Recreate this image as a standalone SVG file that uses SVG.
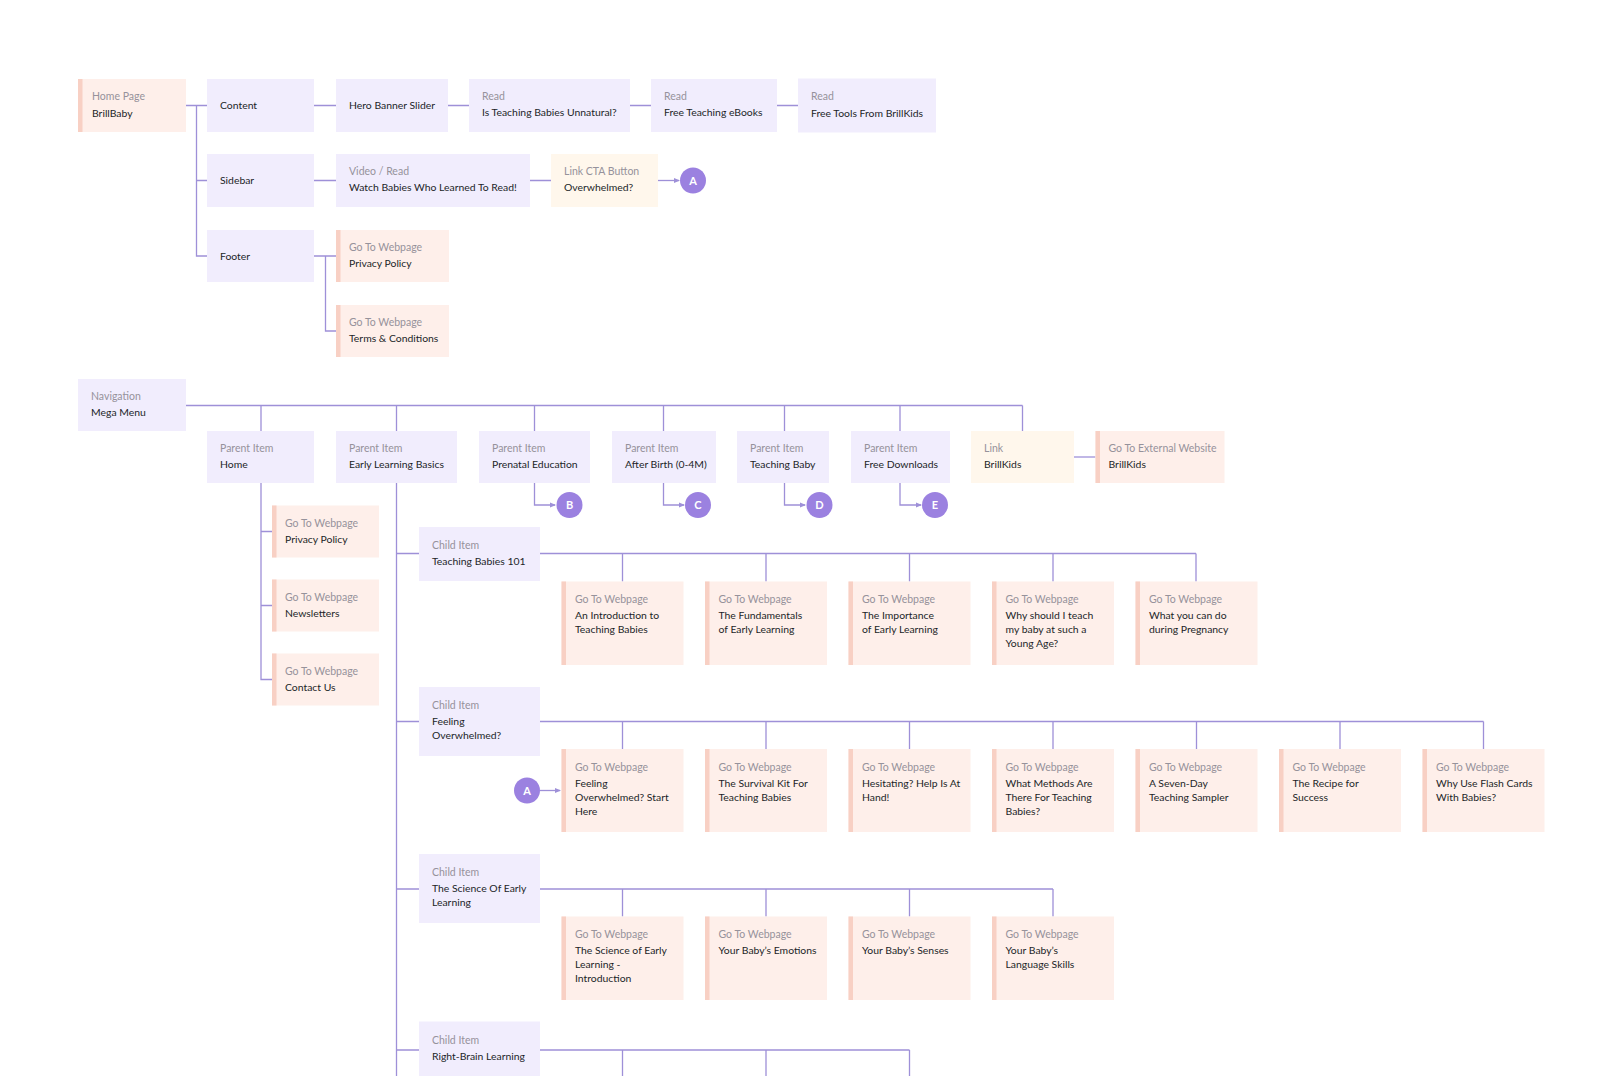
<svg xmlns="http://www.w3.org/2000/svg" width="1622" height="1076" viewBox="0 0 1622 1076">
<style>
.p{fill:#F1EDFD}
.k{fill:#FEEFEA}
.y{fill:#FFF7EC}
.ac{fill:#F8D0C4}
.lb{font-family:Lato,"Open Sans",sans-serif;font-size:10.5px;fill:#96929B}
.mt{font-family:Lato,"Open Sans",sans-serif;font-size:10.4px;fill:#221F28}
.ln{fill:none;stroke:#9E90D8;stroke-width:1.3}
.cc{fill:#9B81E0}
.ct{font-family:Lato,"Open Sans",sans-serif;font-size:11px;fill:#FFFFFF;font-weight:bold;text-anchor:middle}
</style>
<defs>
<marker id="ar" viewBox="0 0 6 6" refX="5" refY="3" markerWidth="6" markerHeight="6" markerUnits="userSpaceOnUse" orient="auto">
<path d="M0 0.5 L6 3 L0 5.5 Z" fill="#9E90D8"/>
</marker>
</defs>
<rect width="1622" height="1076" fill="#FFFFFF"/>

<g id="connectors">
<path class="ln" d="M186 105.5 H196.5 V256 H207 M196.5 105.5 H207 M196.5 180.5 H207"/>
<path class="ln" d="M314 105.5 H336 M448 105.5 H469 M630 105.5 H651 M777 105.5 H798"/>
<path class="ln" d="M314 180.5 H336 M530 180.5 H551"/>
<path class="ln" d="M658 180.5 H679" marker-end="url(#ar)"/>
<path class="ln" d="M314 256 H336 M325.5 256 V331 H336"/>
<path class="ln" d="M186 405.5 H1022.5 M261 405.5 V431 M396.5 405.5 V431 M534.5 405.5 V431 M663.5 405.5 V431 M784.5 405.5 V431 M900 405.5 V431 M1022.5 405.5 V431"/>
<path class="ln" d="M1074 457 H1095.5"/>
<path class="ln" d="M534.5 483 V505 H555" marker-end="url(#ar)"/>
<path class="ln" d="M663.5 483 V505 H684" marker-end="url(#ar)"/>
<path class="ln" d="M784.5 483 V505 H805" marker-end="url(#ar)"/>
<path class="ln" d="M900 483 V505 H921" marker-end="url(#ar)"/>
<path class="ln" d="M261 483 V679.5 H272 M261 531.5 H272 M261 605.5 H272"/>
<path class="ln" d="M396.5 483 V1076"/>
<path class="ln" d="M396.5 553.5 H1196 M622.5 553.5 V581.5 M766 553.5 V581.5 M909.5 553.5 V581.5 M1053 553.5 V581.5 M1196 553.5 V581.5"/>
<path class="ln" d="M396.5 721.5 H1483.5 M622.5 721.5 V749 M766 721.5 V749 M909.5 721.5 V749 M1053 721.5 V749 M1196.5 721.5 V749 M1340 721.5 V749 M1483.5 721.5 V749"/>
<path class="ln" d="M540 790.5 H560" marker-end="url(#ar)"/>
<path class="ln" d="M396.5 889 H1053 M622.5 889 V916.5 M766 889 V916.5 M909.5 889 V916.5 M1053 889 V916.5"/>
<path class="ln" d="M396.5 1050 H909.5 M622.5 1050 V1076 M766 1050 V1076 M909.5 1050 V1076"/>
</g>

<g id="home"><rect class="k" x="78" y="79" width="108" height="53"/><rect class="ac" x="78" y="79" width="4.5" height="53"/><text class="lb" x="92" y="100">Home Page</text><text class="mt" x="92" y="116.5">BrillBaby</text></g>
<g id="content"><rect class="p" x="207" y="79" width="107" height="53"/><text class="mt" x="220" y="109">Content</text></g>
<g id="hero"><rect class="p" x="336" y="79" width="112" height="53"/><text class="mt" x="349" y="109">Hero Banner Slider</text></g>
<g id="read1"><rect class="p" x="469" y="79" width="161" height="53"/><text class="lb" x="482" y="100">Read</text><text class="mt" x="482" y="116">Is Teaching Babies Unnatural?</text></g>
<g id="read2"><rect class="p" x="651" y="79" width="126" height="53"/><text class="lb" x="664" y="100">Read</text><text class="mt" x="664" y="116">Free Teaching eBooks</text></g>
<g id="read3"><rect class="p" x="798" y="78.5" width="138" height="54"/><text class="lb" x="811" y="100">Read</text><text class="mt" x="811" y="116.5">Free Tools From BrillKids</text></g>

<g id="sidebar"><rect class="p" x="207" y="154" width="107" height="53"/><text class="mt" x="220" y="184">Sidebar</text></g>
<g id="video"><rect class="p" x="336" y="154" width="194" height="53"/><text class="lb" x="349" y="175">Video / Read</text><text class="mt" x="349" y="191">Watch Babies Who Learned To Read!</text></g>
<g id="cta"><rect class="y" x="551" y="154" width="107" height="53"/><text class="lb" x="564" y="175">Link CTA Button</text><text class="mt" x="564" y="191">Overwhelmed?</text></g>
<g id="circleA1"><circle class="cc" cx="693" cy="180.5" r="13"/><text class="ct" x="693" y="184.5">A</text></g>

<g id="footer"><rect class="p" x="207" y="230" width="107" height="52"/><text class="mt" x="220" y="259.5">Footer</text></g>
<g id="privacy1"><rect class="k" x="336" y="230" width="113" height="52"/><rect class="ac" x="336" y="230" width="4.5" height="52"/><text class="lb" x="349" y="251">Go To Webpage</text><text class="mt" x="349" y="267">Privacy Policy</text></g>
<g id="terms"><rect class="k" x="336" y="305" width="113" height="52"/><rect class="ac" x="336" y="305" width="4.5" height="52"/><text class="lb" x="349" y="326">Go To Webpage</text><text class="mt" x="349" y="342">Terms &amp; Conditions</text></g>

<g id="nav"><rect class="p" x="78" y="379" width="108" height="52"/><text class="lb" x="91" y="400">Navigation</text><text class="mt" x="91" y="416">Mega Menu</text></g>
<g id="p-home"><rect class="p" x="207" y="431" width="107" height="52"/><text class="lb" x="220" y="452">Parent Item</text><text class="mt" x="220" y="468">Home</text></g>
<g id="p-elb"><rect class="p" x="336" y="431" width="121" height="52"/><text class="lb" x="349" y="452">Parent Item</text><text class="mt" x="349" y="468">Early Learning Basics</text></g>
<g id="p-prenatal"><rect class="p" x="479" y="431" width="111" height="52"/><text class="lb" x="492" y="452">Parent Item</text><text class="mt" x="492" y="468">Prenatal Education</text></g>
<g id="p-after"><rect class="p" x="612" y="431" width="104" height="52"/><text class="lb" x="625" y="452">Parent Item</text><text class="mt" x="625" y="468">After Birth (0-4M)</text></g>
<g id="p-teach"><rect class="p" x="737" y="431" width="92" height="52"/><text class="lb" x="750" y="452">Parent Item</text><text class="mt" x="750" y="468">Teaching Baby</text></g>
<g id="p-free"><rect class="p" x="851" y="431" width="99" height="52"/><text class="lb" x="864" y="452">Parent Item</text><text class="mt" x="864" y="468">Free Downloads</text></g>
<g id="p-link"><rect class="y" x="971" y="431" width="103" height="52"/><text class="lb" x="984" y="452">Link</text><text class="mt" x="984" y="468">BrillKids</text></g>
<g id="ext"><rect class="k" x="1095.5" y="431" width="129" height="52"/><rect class="ac" x="1095.5" y="431" width="4.5" height="52"/><text class="lb" x="1108.5" y="452">Go To External Website</text><text class="mt" x="1108.5" y="468">BrillKids</text></g>

<g id="circleB"><circle class="cc" cx="569.5" cy="505" r="13"/><text class="ct" x="569.5" y="509">B</text></g>
<g id="circleC"><circle class="cc" cx="698" cy="505" r="13"/><text class="ct" x="698" y="509">C</text></g>
<g id="circleD"><circle class="cc" cx="819.5" cy="505" r="13"/><text class="ct" x="819.5" y="509">D</text></g>
<g id="circleE"><circle class="cc" cx="935" cy="505" r="13"/><text class="ct" x="935" y="509">E</text></g>

<g id="h-privacy"><rect class="k" x="272" y="505.5" width="107" height="52"/><rect class="ac" x="272" y="505.5" width="4.5" height="52"/><text class="lb" x="285" y="526.5">Go To Webpage</text><text class="mt" x="285" y="542.5">Privacy Policy</text></g>
<g id="h-news"><rect class="k" x="272" y="579.5" width="107" height="52"/><rect class="ac" x="272" y="579.5" width="4.5" height="52"/><text class="lb" x="285" y="600.5">Go To Webpage</text><text class="mt" x="285" y="616.5">Newsletters</text></g>
<g id="h-contact"><rect class="k" x="272" y="653.5" width="107" height="52"/><rect class="ac" x="272" y="653.5" width="4.5" height="52"/><text class="lb" x="285" y="674.5">Go To Webpage</text><text class="mt" x="285" y="690.5">Contact Us</text></g>

<g id="c-tb101"><rect class="p" x="419" y="527" width="121" height="54"/><text class="lb" x="432" y="549">Child Item</text><text class="mt" x="432" y="565">Teaching Babies 101</text></g>
<g id="tb-1"><rect class="k" x="561.5" y="581.5" width="122" height="83.5"/><rect class="ac" x="561.5" y="581.5" width="4.5" height="83.5"/><text class="lb" x="575" y="603">Go To Webpage</text><text class="mt" x="575" y="619">An Introduction to</text><text class="mt" x="575" y="633">Teaching Babies</text></g>
<g id="tb-2"><rect class="k" x="705" y="581.5" width="122" height="83.5"/><rect class="ac" x="705" y="581.5" width="4.5" height="83.5"/><text class="lb" x="718.5" y="603">Go To Webpage</text><text class="mt" x="718.5" y="619">The Fundamentals</text><text class="mt" x="718.5" y="633">of Early Learning</text></g>
<g id="tb-3"><rect class="k" x="848.5" y="581.5" width="122" height="83.5"/><rect class="ac" x="848.5" y="581.5" width="4.5" height="83.5"/><text class="lb" x="862" y="603">Go To Webpage</text><text class="mt" x="862" y="619">The Importance</text><text class="mt" x="862" y="633">of Early Learning</text></g>
<g id="tb-4"><rect class="k" x="992" y="581.5" width="122" height="83.5"/><rect class="ac" x="992" y="581.5" width="4.5" height="83.5"/><text class="lb" x="1005.5" y="603">Go To Webpage</text><text class="mt" x="1005.5" y="619">Why should I teach</text><text class="mt" x="1005.5" y="633">my baby at such a</text><text class="mt" x="1005.5" y="647">Young Age?</text></g>
<g id="tb-5"><rect class="k" x="1135.5" y="581.5" width="122" height="83.5"/><rect class="ac" x="1135.5" y="581.5" width="4.5" height="83.5"/><text class="lb" x="1149" y="603">Go To Webpage</text><text class="mt" x="1149" y="619">What you can do</text><text class="mt" x="1149" y="633">during Pregnancy</text></g>

<g id="c-feel"><rect class="p" x="419" y="687" width="121" height="69"/><text class="lb" x="432" y="709">Child Item</text><text class="mt" x="432" y="725">Feeling</text><text class="mt" x="432" y="739">Overwhelmed?</text></g>
<g id="circleA2"><circle class="cc" cx="527" cy="790.5" r="13"/><text class="ct" x="527" y="794.5">A</text></g>
<g id="fo-1"><rect class="k" x="561.5" y="749" width="122" height="83"/><rect class="ac" x="561.5" y="749" width="4.5" height="83"/><text class="lb" x="575" y="770.5">Go To Webpage</text><text class="mt" x="575" y="786.5">Feeling</text><text class="mt" x="575" y="800.5">Overwhelmed? Start</text><text class="mt" x="575" y="814.5">Here</text></g>
<g id="fo-2"><rect class="k" x="705" y="749" width="122" height="83"/><rect class="ac" x="705" y="749" width="4.5" height="83"/><text class="lb" x="718.5" y="770.5">Go To Webpage</text><text class="mt" x="718.5" y="786.5">The Survival Kit For</text><text class="mt" x="718.5" y="800.5">Teaching Babies</text></g>
<g id="fo-3"><rect class="k" x="848.5" y="749" width="122" height="83"/><rect class="ac" x="848.5" y="749" width="4.5" height="83"/><text class="lb" x="862" y="770.5">Go To Webpage</text><text class="mt" x="862" y="786.5">Hesitating? Help Is At</text><text class="mt" x="862" y="800.5">Hand!</text></g>
<g id="fo-4"><rect class="k" x="992" y="749" width="122" height="83"/><rect class="ac" x="992" y="749" width="4.5" height="83"/><text class="lb" x="1005.5" y="770.5">Go To Webpage</text><text class="mt" x="1005.5" y="786.5">What Methods Are</text><text class="mt" x="1005.5" y="800.5">There For Teaching</text><text class="mt" x="1005.5" y="814.5">Babies?</text></g>
<g id="fo-5"><rect class="k" x="1135.5" y="749" width="122" height="83"/><rect class="ac" x="1135.5" y="749" width="4.5" height="83"/><text class="lb" x="1149" y="770.5">Go To Webpage</text><text class="mt" x="1149" y="786.5">A Seven-Day</text><text class="mt" x="1149" y="800.5">Teaching Sampler</text></g>
<g id="fo-6"><rect class="k" x="1279" y="749" width="122" height="83"/><rect class="ac" x="1279" y="749" width="4.5" height="83"/><text class="lb" x="1292.5" y="770.5">Go To Webpage</text><text class="mt" x="1292.5" y="786.5">The Recipe for</text><text class="mt" x="1292.5" y="800.5">Success</text></g>
<g id="fo-7"><rect class="k" x="1422.5" y="749" width="122" height="83"/><rect class="ac" x="1422.5" y="749" width="4.5" height="83"/><text class="lb" x="1436" y="770.5">Go To Webpage</text><text class="mt" x="1436" y="786.5">Why Use Flash Cards</text><text class="mt" x="1436" y="800.5">With Babies?</text></g>

<g id="c-science"><rect class="p" x="419" y="854" width="121" height="69"/><text class="lb" x="432" y="876">Child Item</text><text class="mt" x="432" y="892">The Science Of Early</text><text class="mt" x="432" y="906">Learning</text></g>
<g id="sc-1"><rect class="k" x="561.5" y="916.5" width="122" height="83.5"/><rect class="ac" x="561.5" y="916.5" width="4.5" height="83.5"/><text class="lb" x="575" y="938">Go To Webpage</text><text class="mt" x="575" y="954">The Science of Early</text><text class="mt" x="575" y="968">Learning -</text><text class="mt" x="575" y="982">Introduction</text></g>
<g id="sc-2"><rect class="k" x="705" y="916.5" width="122" height="83.5"/><rect class="ac" x="705" y="916.5" width="4.5" height="83.5"/><text class="lb" x="718.5" y="938">Go To Webpage</text><text class="mt" x="718.5" y="954">Your Baby’s Emotions</text></g>
<g id="sc-3"><rect class="k" x="848.5" y="916.5" width="122" height="83.5"/><rect class="ac" x="848.5" y="916.5" width="4.5" height="83.5"/><text class="lb" x="862" y="938">Go To Webpage</text><text class="mt" x="862" y="954">Your Baby’s Senses</text></g>
<g id="sc-4"><rect class="k" x="992" y="916.5" width="122" height="83.5"/><rect class="ac" x="992" y="916.5" width="4.5" height="83.5"/><text class="lb" x="1005.5" y="938">Go To Webpage</text><text class="mt" x="1005.5" y="954">Your Baby’s</text><text class="mt" x="1005.5" y="968">Language Skills</text></g>

<g id="c-rightbrain"><rect class="p" x="419" y="1021.5" width="121" height="69"/><text class="lb" x="432" y="1043.5">Child Item</text><text class="mt" x="432" y="1059.5">Right-Brain Learning</text></g>
</svg>
